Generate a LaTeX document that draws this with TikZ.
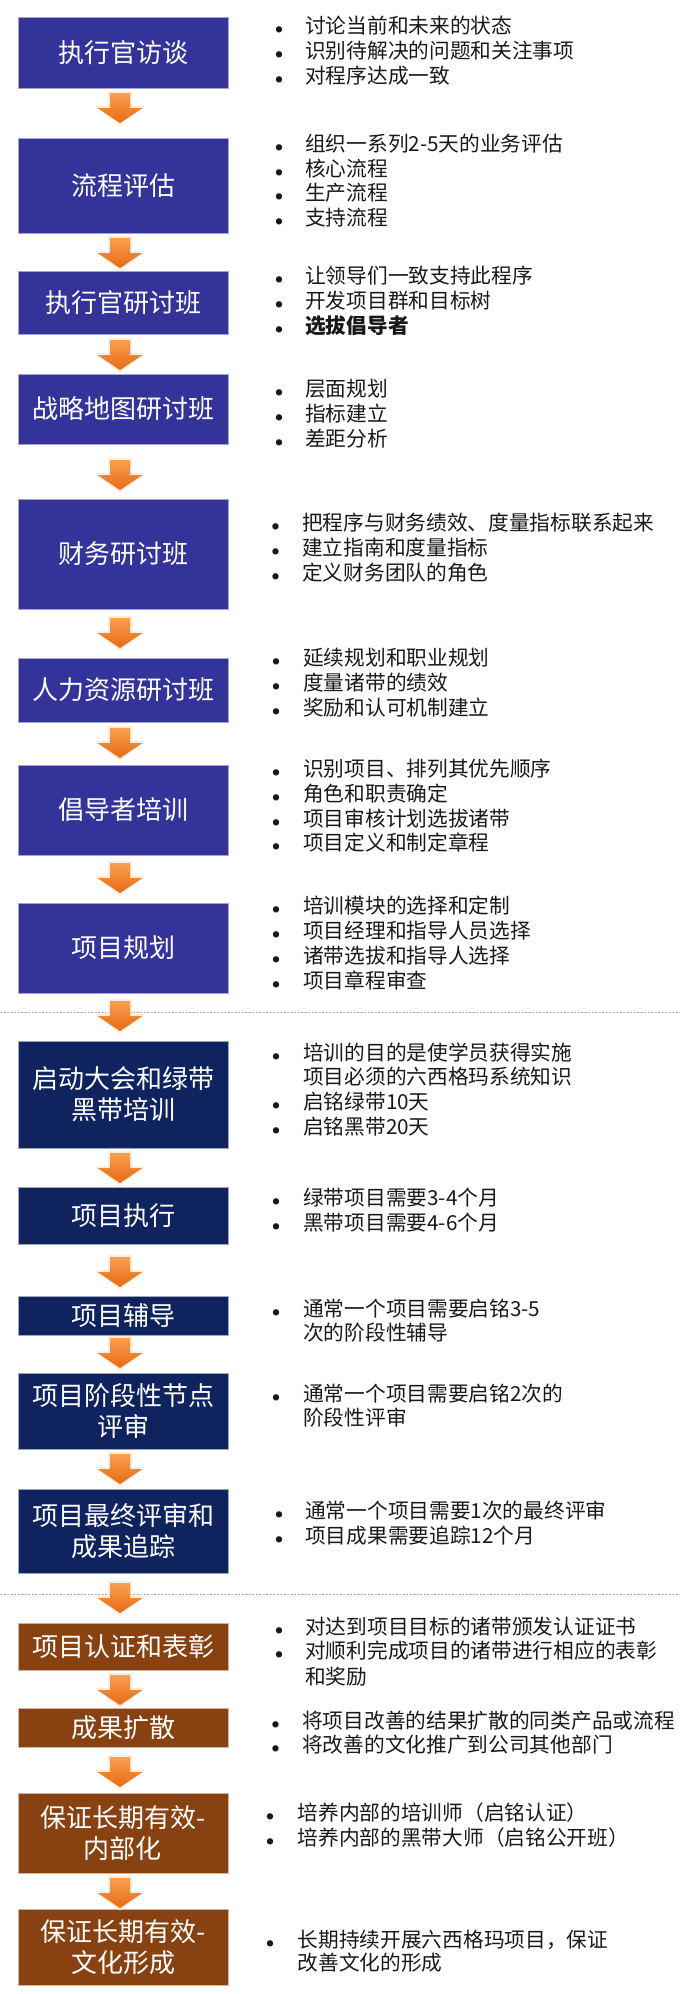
\documentclass[tikz,border=0pt]{standalone}
\usepackage{fontspec}
\setmainfont{Noto Sans CJK SC}
\definecolor{indigoc}{RGB}{51,51,153}
\definecolor{navyc}{RGB}{15,35,95}
\definecolor{brownc}{RGB}{136,66,18}
\definecolor{arrtop}{RGB}{250,160,80}
\definecolor{arrbot}{RGB}{230,105,20}
\definecolor{txtc}{RGB}{25,25,25}
\newcommand\bitem[5]{\node[bul] (#1b) at (#3,#2) {●};\node[itm] (#1) at (#4,#2) {#5};}
\newcommand\citem[4]{\node[itm] (#1) at (#3,#2) {#4};}
\begin{document}
\begin{tikzpicture}[x=1pt,y=-1pt,
  boxbase/.style={rectangle, minimum width=210pt, inner sep=0pt, align=center, text=white,
    font=\fontsize{26}{31}\selectfont, line width=0.6pt},
  boxa/.style={boxbase, fill=indigoc, draw=indigoc!45!white},
  boxb/.style={boxbase, fill=navyc, draw=navyc!40!white},
  boxc/.style={boxbase, fill=brownc, draw=brownc!40!white},
  itm/.style={anchor=west, inner sep=0pt, text=txtc, font=\fontsize{20.7}{25}\selectfont,
    text height=0.88em, text depth=0.12em},
  bul/.style={inner sep=0pt, text=txtc, font=\fontsize{7}{7}\selectfont},
  sepline/.style={draw=gray!65, line width=0.8pt, dash pattern=on 2pt off 1.5pt},
  downarr/.pic={
    \fill[arrtop!40, opacity=0.5] (-12,-2) -- (12,-2) -- (12,13) -- (25,13) -- (0,33) -- (-25,13) -- (-12,13) -- cycle;
    \shade[top color=arrtop, bottom color=arrbot] (-10,0) -- (10,0) -- (10,15) -- (22.5,15) -- (0,30) -- (-22.5,15) -- (-10,15) -- cycle;
  }
]
\useasboundingbox (0,0) rectangle (680,1994);
\fill[white] (0,0) rectangle (680,1994);

% separators
\coordinate (s1l) at (0,1012); \coordinate (s1r) at (680,1012);
\coordinate (s2l) at (0,1594); \coordinate (s2r) at (680,1594);
\draw[sepline] (s1l) -- (s1r);
\draw[sepline] (s2l) -- (s2r);

% boxes
\node[boxa, minimum height=71pt]  (b1)  at (123,52.5) {执行官访谈};
\node[boxa, minimum height=95pt]  (b2)  at (123,185.5) {流程评估};
\node[boxa, minimum height=63pt]  (b3)  at (123,302.5) {执行官研讨班};
\node[boxa, minimum height=70pt]  (b4)  at (123,409) {战略地图研讨班};
\node[boxa, minimum height=110pt] (b5)  at (123,554) {财务研讨班};
\node[boxa, minimum height=64pt]  (b6)  at (123,690) {人力资源研讨班};
\node[boxa, minimum height=90pt]  (b7)  at (123,810) {倡导者培训};
\node[boxa, minimum height=90pt]  (b8)  at (123,948) {项目规划};
\node[boxb, minimum height=107pt] (b9)  at (123,1094.5) {启动大会和绿带\\黑带培训};
\node[boxb, minimum height=57pt]  (b10) at (123,1215.5) {项目执行};
\node[boxb, minimum height=39pt]  (b11) at (123,1315.5) {项目辅导};
\node[boxb, minimum height=76pt]  (b12) at (123,1411) {项目阶段性节点\\评审};
\node[boxb, minimum height=84pt]  (b13) at (123,1531) {项目最终评审和\\成果追踪};
\node[boxc, minimum height=47pt]  (b14) at (123,1646.5) {项目认证和表彰};
\node[boxc, minimum height=39pt]  (b15) at (123,1727.5) {成果扩散};
\node[boxc, minimum height=80pt]  (b16) at (123,1833) {保证长期有效-\\内部化};
\node[boxc, minimum height=76pt]  (b17) at (123,1947) {保证长期有效-\\文化形成};

% arrows
\pic (a1)  at (120,93)   {downarr};
\pic (a2)  at (120,238)  {downarr};
\pic (a3)  at (120,340)  {downarr};
\pic (a4)  at (120,460)  {downarr};
\pic (a5)  at (120,618)  {downarr};
\pic (a6)  at (120,728)  {downarr};
\pic (a7)  at (120,863)  {downarr};
\pic (a8)  at (120,1001) {downarr};
\pic (a9)  at (120,1153) {downarr};
\pic (a10) at (120,1257) {downarr};
\pic (a11) at (120,1338) {downarr};
\pic (a12) at (120,1454) {downarr};
\pic (a13) at (120,1583) {downarr};
\pic (a14) at (120,1675) {downarr};
\pic (a15) at (120,1757) {downarr};
\pic (a16) at (120,1878) {downarr};

% group 1
\bitem{t1a}{30}{279}{305}{讨论当前和未来的状态}
\bitem{t1b}{55}{279}{305}{识别待解决的问题和关注事项}
\bitem{t1c}{80}{279}{305}{对程序达成一致}
% group 2
\bitem{t2a}{148}{279}{305}{组织一系列2-5天的业务评估}
\bitem{t2b}{173}{279}{305}{核心流程}
\bitem{t2c}{197}{279}{305}{生产流程}
\bitem{t2d}{222}{279}{305}{支持流程}
% group 3
\bitem{t3a}{280}{279}{305}{让领导们一致支持此程序}
\bitem{t3b}{305}{279}{305}{开发项目群和目标树}
\bitem{t3c}{330}{279}{305}{\bfseries 选拔倡导者}
% group 4
\bitem{t4a}{393}{279}{305}{层面规划}
\bitem{t4b}{418}{279}{305}{指标建立}
\bitem{t4c}{443}{279}{305}{差距分析}
% group 5
\bitem{t5a}{527}{275.5}{302}{把程序与财务绩效、度量指标联系起来}
\bitem{t5b}{552}{275.5}{302}{建立指南和度量指标}
\bitem{t5c}{577}{275.5}{302}{定义财务团队的角色}
% group 6
\bitem{t6a}{662}{276}{303}{延续规划和职业规划}
\bitem{t6b}{687}{276}{303}{度量诸带的绩效}
\bitem{t6c}{712}{276}{303}{奖励和认可机制建立}
% group 7
\bitem{t7a}{773}{276}{303}{识别项目、排列其优先顺序}
\bitem{t7b}{798}{276}{303}{角色和职责确定}
\bitem{t7c}{823}{276}{303}{项目审核计划选拔诸带}
\bitem{t7d}{847}{276}{303}{项目定义和制定章程}
% group 8
\bitem{t8a}{910}{276}{303}{培训模块的选择和定制}
\bitem{t8b}{935}{276}{303}{项目经理和指导人员选择}
\bitem{t8c}{960}{276}{303}{诸带选拔和指导人选择}
\bitem{t8d}{985}{276}{303}{项目章程审查}
% group 9
\bitem{t9a}{1057}{276}{303}{培训的目的是使学员获得实施}
\citem{t9a2}{1081}{303}{项目必须的六西格玛系统知识}
\bitem{t9b}{1106}{276}{303}{启铭绿带10天}
\bitem{t9c}{1131}{276}{303}{启铭黑带20天}
% group 10
\bitem{t10a}{1202}{276}{303}{绿带项目需要3-4个月}
\bitem{t10b}{1227}{276}{303}{黑带项目需要4-6个月}
% group 11
\bitem{t11a}{1313}{276}{303}{通常一个项目需要启铭3-5}
\citem{t11a2}{1337}{303}{次的阶段性辅导}
% group 12
\bitem{t12a}{1398}{276}{303}{通常一个项目需要启铭2次的}
\citem{t12a2}{1422}{303}{阶段性评审}
% group 13
\bitem{t13a}{1515}{279}{305}{通常一个项目需要1次的最终评审}
\bitem{t13b}{1540}{279}{305}{项目成果需要追踪12个月}
% group 14
\bitem{t14a}{1631}{279}{305}{对达到项目目标的诸带颁发认证证书}
\bitem{t14b}{1655}{279}{305}{对顺利完成项目的诸带进行相应的表彰}
\citem{t14b2}{1681}{305}{和奖励}
% group 15
\bitem{t15a}{1725}{275.5}{302}{将项目改善的结果扩散的同类产品或流程}
\bitem{t15b}{1749}{275.5}{302}{将改善的文化推广到公司其他部门}
% group 16
\bitem{t16a}{1817}{270}{297.5}{培养内部的培训师（启铭认证）}
\bitem{t16b}{1842}{270}{297.5}{培养内部的黑带大师（启铭公开班）}
% group 17
\bitem{t17a}{1944}{270}{297.5}{长期持续开展六西格玛项目，保证}
\citem{t17a2}{1967}{297.5}{改善文化的形成}
\end{tikzpicture}
\end{document}
